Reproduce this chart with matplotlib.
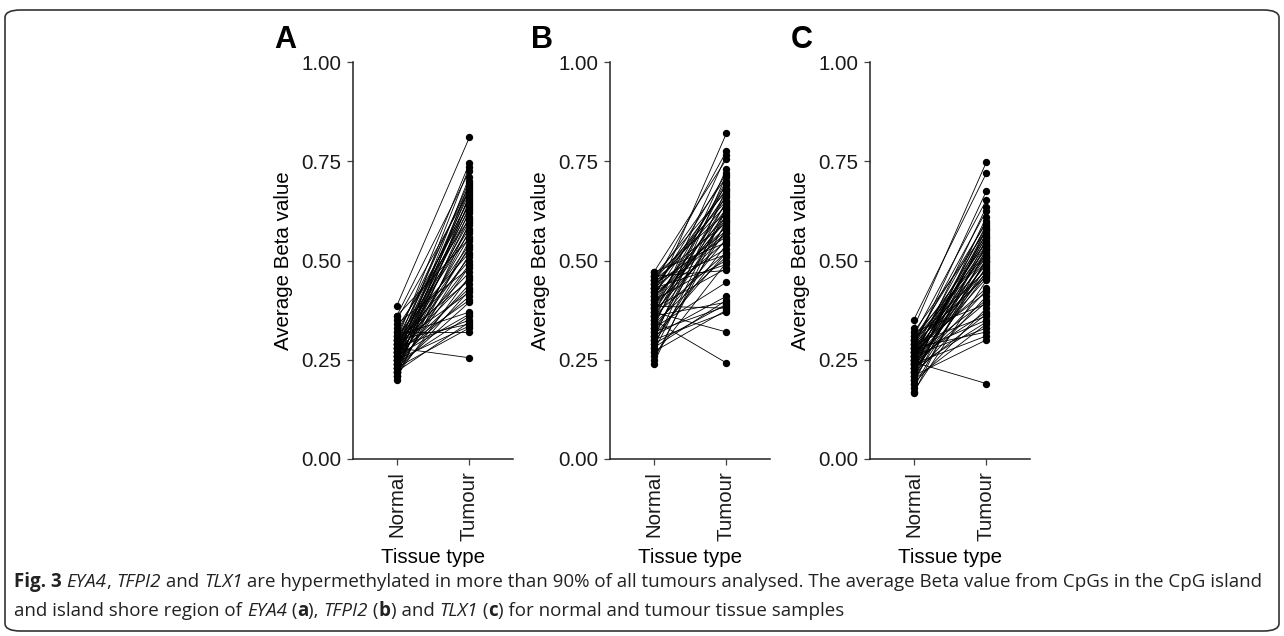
import matplotlib as mpl
mpl.use('agg')
import matplotlib.pyplot as plt
from matplotlib.patches import FancyBboxPatch

# paired beta values (same sample order in normal / tumour lists)
eya4_tumour = [0.81, 0.745, 0.735, 0.725, 0.71, 0.70, 0.695, 0.69, 0.685, 0.68,
               0.675, 0.67, 0.665, 0.66, 0.655, 0.65, 0.645, 0.64, 0.635, 0.63,
               0.625, 0.62, 0.61, 0.605, 0.60, 0.595, 0.59, 0.58, 0.575, 0.57,
               0.56, 0.555, 0.55, 0.54, 0.535, 0.53, 0.52, 0.515, 0.51, 0.50,
               0.49, 0.485, 0.48, 0.47, 0.46, 0.455, 0.45, 0.44, 0.43, 0.425,
               0.42, 0.41, 0.40, 0.395, 0.37, 0.365, 0.36, 0.35, 0.345, 0.34,
               0.335, 0.33, 0.32, 0.255]
eya4_normal = [0.385, 0.30, 0.27, 0.36, 0.25, 0.29, 0.22, 0.31, 0.26, 0.24,
               0.35, 0.28, 0.21, 0.27, 0.30, 0.23, 0.26, 0.32, 0.25, 0.29,
               0.22, 0.28, 0.24, 0.33, 0.27, 0.20, 0.26, 0.30, 0.23, 0.29,
               0.25, 0.36, 0.21, 0.28, 0.24, 0.27, 0.31, 0.22, 0.26, 0.29,
               0.25, 0.23, 0.34, 0.28, 0.21, 0.27, 0.30, 0.24, 0.26, 0.22,
               0.29, 0.25, 0.27, 0.23, 0.31, 0.26, 0.24, 0.28, 0.22, 0.30,
               0.25, 0.23, 0.32, 0.28]

tfpi2_tumour = [0.82, 0.775, 0.765, 0.755, 0.73, 0.72, 0.715, 0.71, 0.70, 0.695,
                0.69, 0.68, 0.675, 0.67, 0.665, 0.66, 0.65, 0.645, 0.64, 0.635,
                0.63, 0.625, 0.62, 0.615, 0.61, 0.605, 0.60, 0.595, 0.59, 0.585,
                0.58, 0.575, 0.57, 0.56, 0.555, 0.55, 0.545, 0.54, 0.53, 0.52,
                0.515, 0.51, 0.50, 0.495, 0.49, 0.48, 0.475, 0.445, 0.41, 0.40,
                0.395, 0.39, 0.385, 0.38, 0.375, 0.37, 0.32, 0.242, 0.60, 0.63,
                0.57, 0.65, 0.52, 0.68]
tfpi2_normal = [0.40, 0.44, 0.36, 0.47, 0.33, 0.42, 0.30, 0.45, 0.38, 0.35,
                0.41, 0.28, 0.46, 0.39, 0.34, 0.43, 0.31, 0.37, 0.44, 0.27,
                0.40, 0.36, 0.46, 0.32, 0.42, 0.38, 0.25, 0.45, 0.35, 0.41,
                0.29, 0.43, 0.37, 0.44, 0.33, 0.39, 0.47, 0.30, 0.42, 0.36,
                0.45, 0.34, 0.40, 0.26, 0.43, 0.38, 0.46, 0.33, 0.31, 0.28,
                0.36, 0.29, 0.32, 0.385, 0.27, 0.30, 0.37, 0.35, 0.39, 0.24,
                0.41, 0.45, 0.31, 0.43]

tlx1_tumour = [0.748, 0.72, 0.675, 0.652, 0.635, 0.625, 0.61, 0.60, 0.595, 0.59,
               0.585, 0.58, 0.575, 0.57, 0.565, 0.56, 0.555, 0.55, 0.545, 0.54,
               0.535, 0.53, 0.525, 0.52, 0.515, 0.51, 0.505, 0.50, 0.495, 0.49,
               0.485, 0.48, 0.475, 0.47, 0.465, 0.46, 0.455, 0.45, 0.43, 0.425,
               0.42, 0.41, 0.40, 0.395, 0.39, 0.38, 0.37, 0.365, 0.36, 0.35,
               0.345, 0.34, 0.33, 0.32, 0.31, 0.30, 0.19, 0.56, 0.53, 0.51,
               0.50, 0.54, 0.47, 0.58]
tlx1_normal = [0.33, 0.35, 0.28, 0.31, 0.25, 0.29, 0.22, 0.27, 0.30, 0.24,
               0.26, 0.20, 0.32, 0.23, 0.28, 0.25, 0.19, 0.27, 0.30, 0.21,
               0.24, 0.29, 0.26, 0.22, 0.31, 0.25, 0.18, 0.28, 0.23, 0.27,
               0.20, 0.26, 0.30, 0.24, 0.22, 0.29, 0.25, 0.17, 0.27, 0.23,
               0.28, 0.21, 0.26, 0.24, 0.32, 0.19, 0.25, 0.22, 0.29, 0.27,
               0.23, 0.20, 0.26, 0.28, 0.24, 0.21, 0.244, 0.25, 0.165, 0.30,
               0.22, 0.27, 0.26, 0.23]

groups = ['Normal', 'Tumour']
panel_letters = ['A', 'B', 'C']
yticks = [0.00, 0.25, 0.50, 0.75, 1.00]
panels = [(eya4_normal, eya4_tumour), (tfpi2_normal, tfpi2_tumour), (tlx1_normal, tlx1_tumour)]

W, H = 1284, 636
fig = plt.figure(figsize=(W/100, H/100), dpi=100)
plt.rcParams['font.family'] = ['Liberation Sans', 'DejaVu Sans']

ax_left = [353, 610, 870]
for i, (normal, tumour) in enumerate(panels):
  ax = fig.add_axes([ax_left[i]/W, (H-459)/H, 160/W, 397/H])
  for n, t in zip(normal, tumour):
    ax.plot([1, 2], [n, t], color='black', lw=0.6, zorder=2)
  ax.scatter([1]*len(normal), normal, s=28, color='black', zorder=3, lw=0)
  ax.scatter([2]*len(tumour), tumour, s=28, color='black', zorder=3, lw=0)
  ax.set_xlim(0.4, 2.6)
  ax.set_ylim(0, 1)
  ax.set_yticks(yticks)
  ax.set_yticklabels(['%.2f' % v for v in yticks])
  ax.set_xticks([1, 2])
  ax.set_xticklabels(groups, rotation=90)
  for s in ['top', 'right']:
    ax.spines[s].set_visible(False)
  for s in ['left', 'bottom']:
    ax.spines[s].set_color('#222222')
    ax.spines[s].set_linewidth(1.1)
  ax.tick_params(axis='both', length=4.5, width=0.9, color='#444444',
                 labelsize=14.8, labelcolor='#1a1a1a', pad=4)
  ax.set_ylabel('Average Beta value', fontsize=14.8, labelpad=6)
  ax.set_xlabel('Tissue type', fontsize=14.8, labelpad=5)
  ax.patch.set_visible(False)
  fig.text((ax_left[i]-68)/W, 1-40/H, panel_letters[i], fontsize=22,
           fontweight='bold', ha='center', va='center')

# frame around figure + caption
frame = FancyBboxPatch((5/W, 5/H), 1274/W, 621/H,
                       boxstyle='round,pad=0,rounding_size=0.012',
                       transform=fig.transFigure, fill=False,
                       edgecolor='#333333', lw=1.2)
fig.patches.append(frame)

cap_font = ['Open Sans', 'DejaVu Sans']
cap_size = 13.5
line1 = [('Fig. 3 ', 'bold', 'normal'), ('EYA4', 'normal', 'italic'), (', ', 'normal', 'normal'),
         ('TFPI2', 'normal', 'italic'), (' and ', 'normal', 'normal'), ('TLX1', 'normal', 'italic'),
         (' are hypermethylated in more than 90% of all tumours analysed. The average Beta value '
          'from CpGs in the CpG island', 'normal', 'normal')]
line2 = [('and island shore region of ', 'normal', 'normal'), ('EYA4', 'normal', 'italic'),
         (' (', 'normal', 'normal'), ('a', 'bold', 'normal'), ('), ', 'normal', 'normal'),
         ('TFPI2', 'normal', 'italic'), (' (', 'normal', 'normal'), ('b', 'bold', 'normal'),
         (') and ', 'normal', 'normal'), ('TLX1', 'normal', 'italic'), (' (', 'normal', 'normal'),
         ('c', 'bold', 'normal'), (') for normal and tumour tissue samples', 'normal', 'normal')]

renderer = fig.canvas.get_renderer()
for line, ypx in [(line1, 587), (line2, 616)]:
  x = 14
  for txt, wt, st in line:
    t = fig.text(x/W, 1-ypx/H, txt, fontsize=cap_size, fontweight=wt, fontstyle=st,
                 family=cap_font, ha='left', va='baseline', color='#222222')
    bb = t.get_window_extent(renderer)
    x += bb.width

fig.savefig('out.png', dpi=100)
